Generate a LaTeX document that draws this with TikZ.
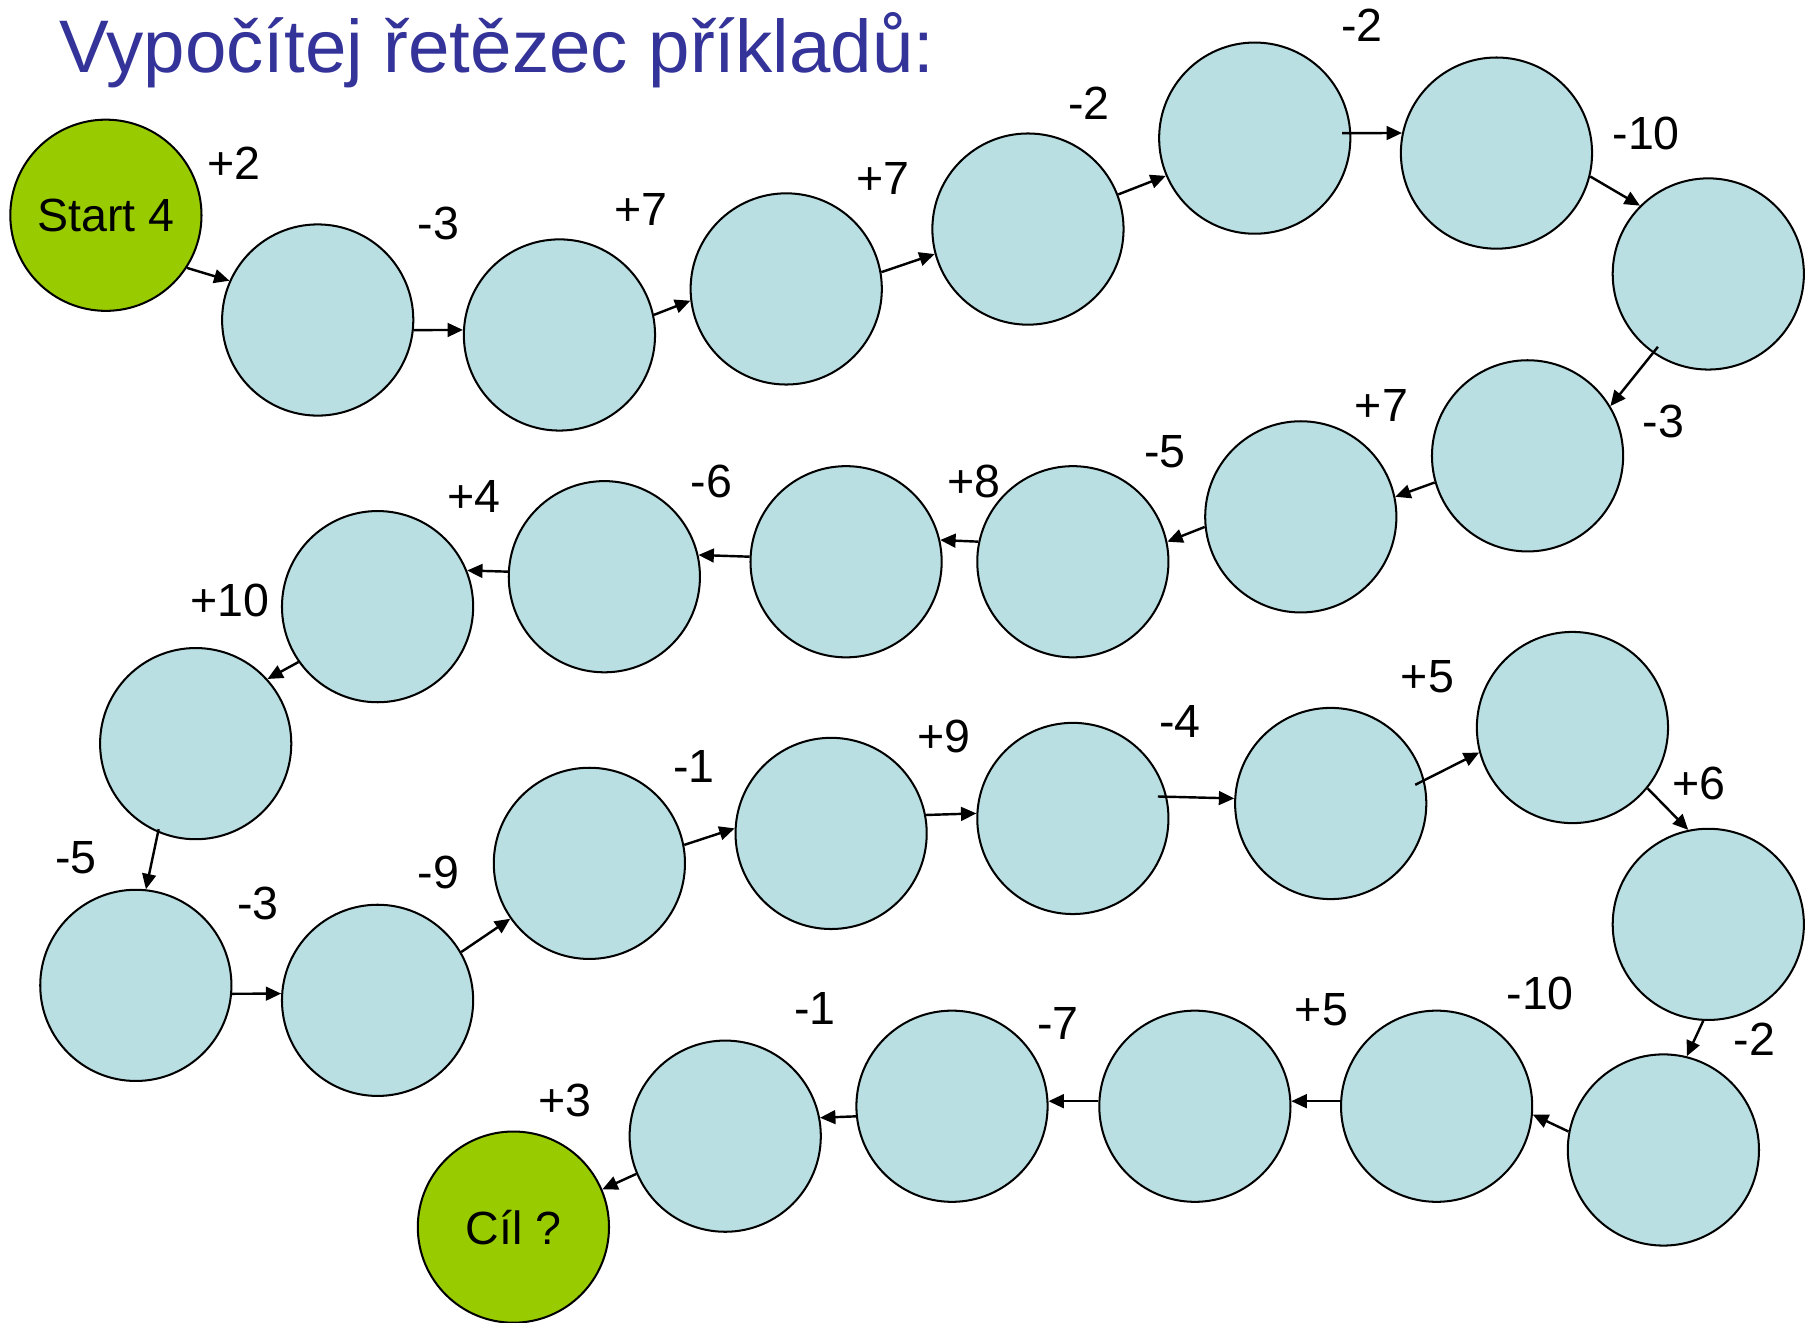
\documentclass[tikz,border=0pt]{standalone}
\usepackage{fontspec}
\setmainfont{Liberation Sans}
\usetikzlibrary{arrows.meta}

\definecolor{titleblue}{HTML}{333399}
\definecolor{bubblefill}{HTML}{B9DFE2}
\definecolor{goalgreen}{HTML}{99CC00}

\tikzset{
  bubble/.style={circle, draw=black, line width=0.5pt, fill=bubblefill,
                 minimum size=1.66cm, inner sep=0pt},
  goal/.style={bubble, fill=goalgreen,
               font=\fontsize{11.5}{13}\selectfont},
  oplabel/.style={font=\fontsize{11.5}{13}\selectfont, inner sep=0pt},
  link/.style={->, line width=0.6pt}
}

\begin{document}
\begin{tikzpicture}[>={Triangle[length=3.8pt,width=3.4pt]}, x=0.01cm, y=-0.01cm]

\useasboundingbox (0,0) rectangle (1568,1149);

% ----------------------------
% TITLE
% ----------------------------
\node[anchor=base west, inner sep=0pt, text=titleblue,
      font=\fontsize{18.4}{21}\selectfont] (title) at (51,63) {Vypočítej řetězec příkladů:};

% ----------------------------
% START AND GOAL
% ----------------------------
\node[goal] (c0) at (92,187) {Start 4};
\node[goal] (c28) at (446,1066) {Cíl ?};

% ----------------------------
% CHAIN OF BUBBLES
% ----------------------------
\foreach \i/\x/\y in {1/276/278, 2/486/291, 3/683/251, 4/893/199,
                      5/1090/120, 6/1300/133, 7/1484/238, 8/1327/396,
                      9/1130/449, 10/932/488, 11/735/488, 12/525/501,
                      13/328/527, 14/170/646, 15/118/856, 16/328/869,
                      17/512/750, 18/722/724, 19/932/711, 20/1156/698,
                      21/1366/632, 22/1484/803, 23/1445/999, 24/1248/961,
                      25/1038/961, 26/827/961, 27/630/987}
  \node[bubble] (c\i) at (\x,\y) {};

% ----------------------------
% ARROWS (from/angle, to/angle, extra length at the start)
% ----------------------------
\foreach \a/\s/\b/\e/\k in {0/-33/1/156/0, 1/-6/2/177/0, 2/12/3/187/0,
      3/10/4/195/0, 4/21/5/203/0, 5/3/6/168/8, 6/-14/7/135/0,
      7/-125/8/31/7, 8/196/9/12/0, 9/186/10/12/0, 10/168/11/13/0,
      11/177/12/13/0, 12/177/13/22/0, 13/215/14/42/0, 14/247/15/84/3,
      15/-5/16/176/0, 16/30/17/215/0, 17/11/18/177/0, 18/11/19/177/0,
      19/13/20/177/8, 20/14/21/195/9, 21/-39/22/102/0, 22/267/23/76/0,
      23/169/24/-5/0, 24/177/25/3/0, 25/177/26/3/0, 26/186/27/11/0,
      27/203/28/23/0}
  \draw[link, shorten <=-\k*0.01cm] (c\a.\s) -- (c\b.\e);

% ----------------------------
% OPERATIONS
% ----------------------------
\foreach \i/\x/\y/\t in {1/203/142/+2, 2/381/194/-3, 3/557/182/+7,
                         4/767/155/+7, 5/946/90/-2, 6/1183/22/-2,
                         7/1430/116/-10, 8/1445/366/-3, 9/1200/352/+7,
                         10/1012/392/-5, 11/846/418/+8, 12/618/418/-6,
                         13/412/431/+4, 14/200/522/+10, 15/66/745/-5,
                         16/224/785/-3, 17/381/758/-9, 18/603/666/-1,
                         19/820/640/+9, 20/1025/627/-4, 21/1240/588/+5,
                         22/1476/681/+6, 23/1524/903/-2, 24/1338/863/-10,
                         25/1148/877/+5, 26/919/889/-7, 27/708/876/-1,
                         28/491/956/+3}
  \node[oplabel] (op\i) at (\x,\y) {\t};

\end{tikzpicture}
\end{document}
